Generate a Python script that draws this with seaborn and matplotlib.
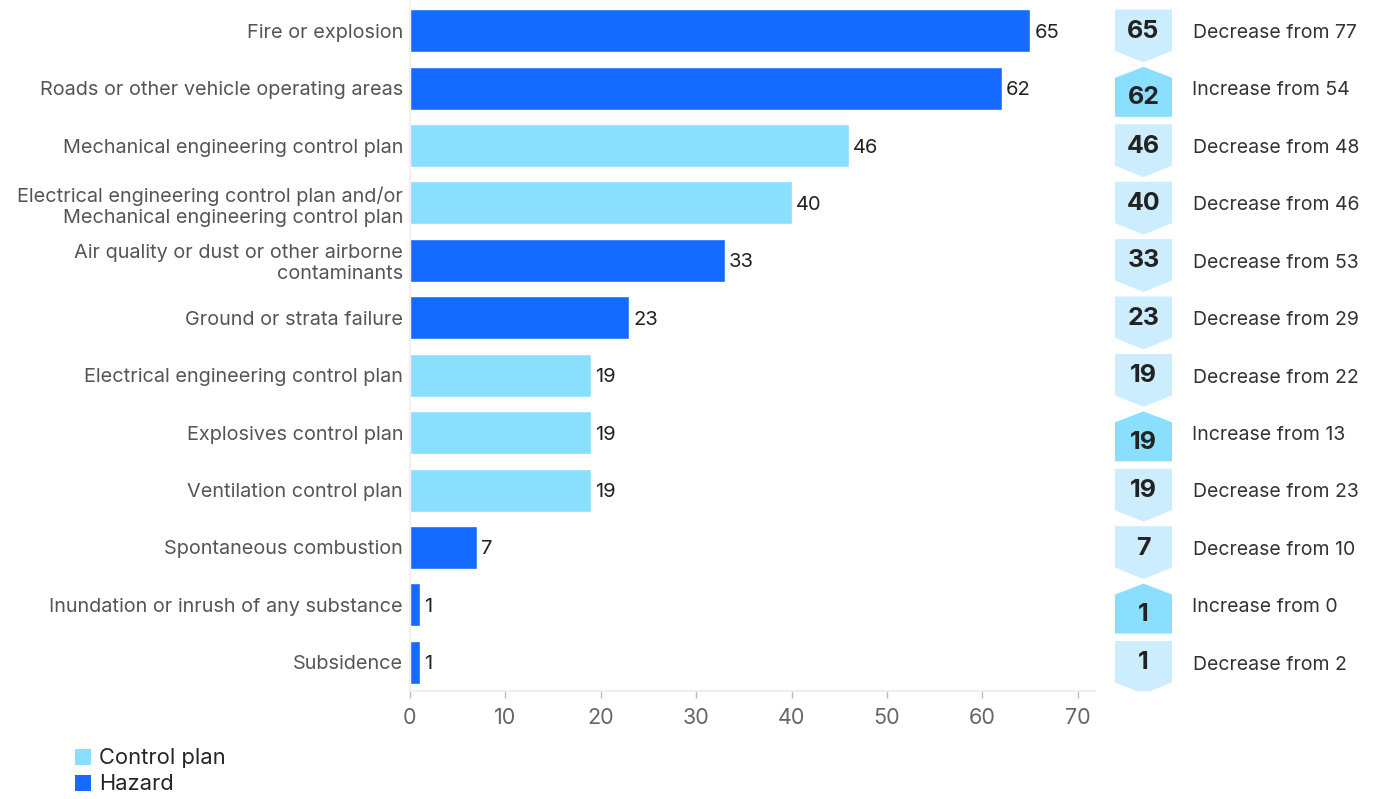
import matplotlib
matplotlib.use("Agg")
import matplotlib.pyplot as plt
from matplotlib.patches import Polygon, Patch
import seaborn as sns
import pandas as pd

categories = [
    "Fire or explosion",
    "Roads or other vehicle operating areas",
    "Mechanical engineering control plan",
    "Electrical engineering control plan and/or\nMechanical engineering control plan",
    "Air quality or dust or other airborne\ncontaminants",
    "Ground or strata failure",
    "Electrical engineering control plan",
    "Explosives control plan",
    "Ventilation control plan",
    "Spontaneous combustion",
    "Inundation or inrush of any substance",
    "Subsidence",
]
counts = [65, 62, 46, 40, 33, 23, 19, 19, 19, 7, 1, 1]
previous = [77, 54, 48, 46, 53, 29, 22, 13, 23, 10, 0, 2]
kinds = ["Hazard", "Hazard", "Control plan", "Control plan", "Hazard", "Hazard",
         "Control plan", "Control plan", "Control plan", "Hazard", "Hazard", "Hazard"]
xticks = [0, 10, 20, 30, 40, 50, 60, 70]

HAZARD = "#156BFF"
PLAN = "#8ADFFF"
BADGE_DOWN = "#CCEDFE"
BADGE_UP = "#8ADFFF"
FONT = ["Inter", "DejaVu Sans"]

sns.set_theme(style="white")
plt.rcParams["font.family"] = FONT

df = pd.DataFrame({"category": categories, "count": counts, "kind": kinds})

fig = plt.figure(figsize=(13.8, 7.99), dpi=100)
ax = fig.add_axes([410 / 1380, 1 - 691 / 799, 685 / 1380, 689 / 799])

sns.barplot(data=df, x="count", y="category", hue="kind", dodge=False,
            palette={"Hazard": HAZARD, "Control plan": PLAN},
            width=0.75, saturation=1, ax=ax, legend=False)

for cont in ax.containers:
    labels = ax.bar_label(cont, padding=3, fontsize=14.5, color="#222222")
    for t in labels:
        t.set_va("center_baseline")

ax.set_xlim(0, 71.8)
ax.set_ylim(11.5, -0.5)
ax.set_xticks(xticks)
ax.set_xticklabels([str(t) for t in xticks], fontsize=15.5, color="#666666")
ax.tick_params(axis="x", length=5, width=1, color="#bbbbbb", pad=7, bottom=True)
ax.tick_params(axis="y", length=0, pad=5, labelsize=14.3, labelcolor="#555555")
ax.set_xlabel("")
ax.set_ylabel("")
for side in ["top", "right"]:
    ax.spines[side].set_visible(False)
ax.spines["bottom"].set_color("#eeeeee")
ax.spines["left"].set_color("#eeeeee")
ax.spines["bottom"].set_linewidth(1.5)

# change badges in a side panel, one per category row
bx = fig.add_axes([1100 / 1380, 1 - 691 / 799, 280 / 1380, 689 / 799])
bx.set_xlim(0, 280)
bx.set_ylim(ax.get_ylim())
bx.axis("off")

x0, x1 = 15, 72
xc = (x0 + x1) / 2
for i, (cur, prev) in enumerate(zip(counts, previous)):
    if cur >= prev:
        pts = [(x0, i - 0.18), (xc, i - 0.37), (x1, i - 0.18), (x1, i + 0.5), (x0, i + 0.5)]
        face = BADGE_UP
        ny = i + 0.17
        word = "Increase"
        tx = 92
    else:
        pts = [(x0, i - 0.37), (x1, i - 0.37), (x1, i + 0.35), (xc, i + 0.55), (x0, i + 0.35)]
        face = BADGE_DOWN
        ny = i + 0.01
        word = "Decrease"
        tx = 93
    bx.add_patch(Polygon(pts, closed=True, facecolor=face, edgecolor="none"))
    bx.text(xc, ny, str(cur), ha="center", va="center", fontsize=18,
            fontweight="bold", color="#222222")
    bx.text(tx, i + 0.04, f"{word} from {prev}", ha="left", va="center",
            fontsize=14, color="#333333")

handles = [Patch(facecolor=PLAN, edgecolor="none", label="Control plan"),
           Patch(facecolor=HAZARD, edgecolor="none", label="Hazard")]
fig.legend(handles=handles, loc="lower left", bbox_to_anchor=(64 / 1380, -0.008),
           frameon=False, fontsize=15.8, handlelength=0.75, handleheight=0.75,
           handletextpad=0.35, labelspacing=0.28, borderaxespad=0.1)

fig.savefig("out.png", dpi=100)
